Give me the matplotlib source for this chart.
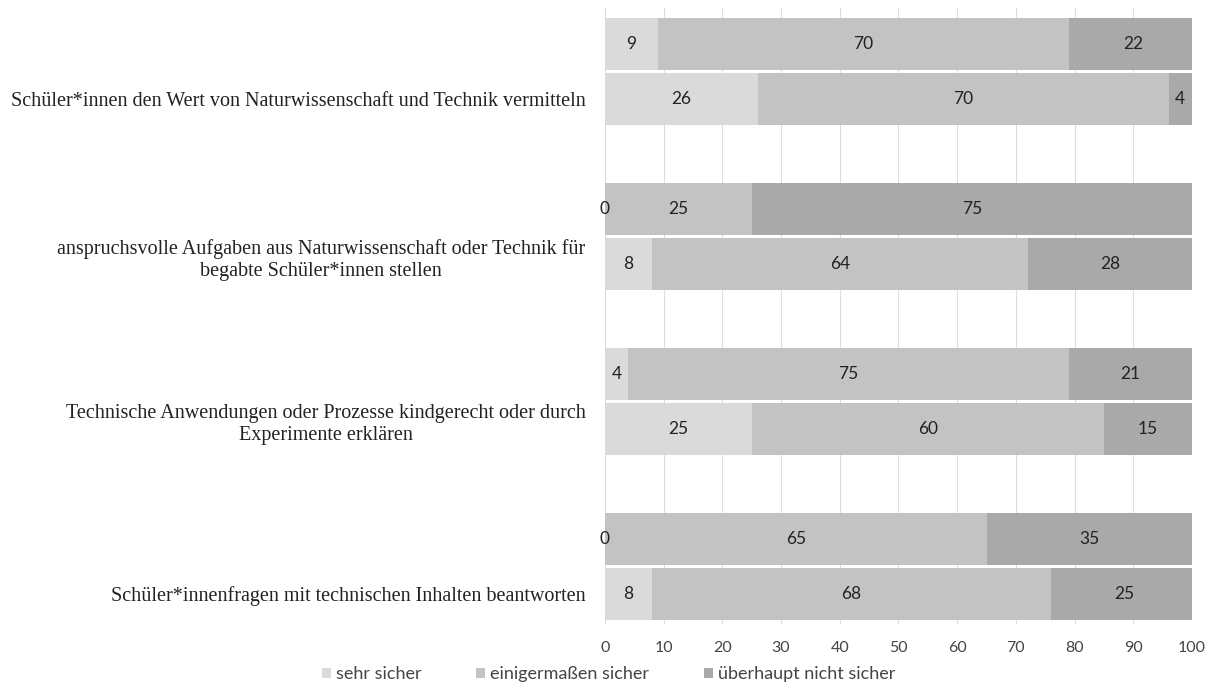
import numpy as np
import matplotlib
matplotlib.use("Agg")
import matplotlib.pyplot as plt
import matplotlib.transforms as mtransforms

# items (each with two bars, label sits on the lower bar)
items = ["Schüler*innen den Wert von Naturwissenschaft und Technik vermitteln",
         "anspruchsvolle Aufgaben aus Naturwissenschaft oder Technik für\nbegabte Schüler*innen stellen",
         "Technische Anwendungen oder Prozesse kindgerecht oder durch\nExperimente erklären",
         "Schüler*innenfragen mit technischen Inhalten beantworten"]
series = ["sehr sicher", "einigermaßen sicher", "überhaupt nicht sicher"]
# upper bar and lower bar per item
sehr_upper = [9, 0, 4, 0]
einig_upper = [70, 25, 75, 65]
nicht_upper = [22, 75, 21, 35]
sehr_lower = [26, 8, 25, 8]
einig_lower = [70, 64, 60, 68]
nicht_lower = [4, 28, 15, 25]

colors = ["#dadada", "#c3c3c3", "#a9a9a9"]

fig = plt.figure(figsize=(12.17, 6.95), dpi=100)
ax = fig.add_axes([0.497, 0.102, 0.4825, 0.886])

upper = np.array([sehr_upper, einig_upper, nicht_upper], dtype=float)
lower = np.array([sehr_lower, einig_lower, nicht_lower], dtype=float)
# rows from top: upper, lower, blank
y_upper = np.array([10, 7, 4, 1]) + 0.0
y_lower = y_upper - 1

for vals, ys in [(upper, y_upper), (lower, y_lower)]:
    left = np.zeros(4)
    for k in range(3):
        ax.barh(ys, vals[k], left=left, height=0.95, color=colors[k],
                edgecolor="none", zorder=2, label=series[k] if ys is y_upper else None)
        for i in range(4):
            xc = left[i] + vals[k][i] / 2
            ax.text(xc, ys[i], "%d" % vals[k][i], ha="center", va="center",
                    fontsize=12.5, family="Lato", color="#222222", zorder=3)
        left = left + vals[k]

ax.set_xlim(0, 100)
ax.set_ylim(-0.55, 10.65)
ax.set_xticks(np.arange(0, 101, 10))
ax.xaxis.grid(True, color="#dddddd", lw=0.8, zorder=0)
ax.set_axisbelow(True)
ax.set_yticks(y_lower)
ax.set_yticklabels(items, family="Liberation Serif", fontsize=14.5, ha="right",
                   multialignment="center", color="#222222")
ax.tick_params(axis="y", length=0, pad=14)
ax.tick_params(axis="x", length=0, labelsize=11.5, colors="#444444", pad=12)
for lab in ax.get_xticklabels():
    lab.set_family("Lato")
# two-line labels sit a bit higher
shift = mtransforms.ScaledTranslation(0, 8 / 100, fig.dpi_scale_trans)
for lab in ax.get_yticklabels():
    if "\n" in lab.get_text():
        lab.set_transform(lab.get_transform() + shift)
for s in ax.spines.values():
    s.set_visible(False)

fig.legend(loc="lower center", bbox_to_anchor=(0.5, -0.005), ncol=3, frameon=False,
           prop={"family": "Lato", "size": 13}, handlelength=0.5, handleheight=0.5,
           columnspacing=3.0, handletextpad=0.3, labelcolor="#444444")

fig.savefig("out.png", dpi=100)
